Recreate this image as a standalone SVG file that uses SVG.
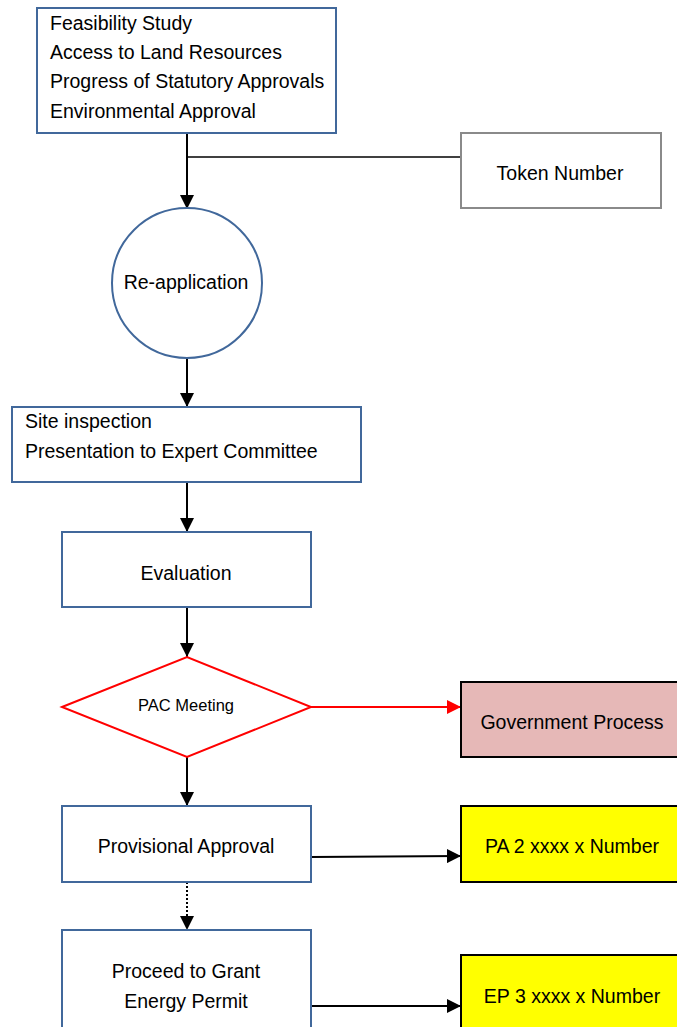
<svg xmlns="http://www.w3.org/2000/svg" width="677" height="1027" viewBox="0 0 677 1027">
<style>
text{font-family:"Liberation Sans",Arial,sans-serif;font-size:19.5px;fill:#000}
.c{text-anchor:middle}
.blue{fill:#fff;stroke:#41689b;stroke-width:2}
.gray{fill:#fff;stroke:#8a8a8a;stroke-width:2}
.yel{fill:#ffff00;stroke:#000;stroke-width:2}
.pink{fill:#e6b8b7;stroke:#000;stroke-width:2}
.ln{fill:none;stroke:#000;stroke-width:2}
</style>
<defs>
<marker id="ah" viewBox="0 0 10 10" refX="10" refY="5" markerWidth="7" markerHeight="7" orient="auto" markerUnits="strokeWidth"><path d="M0,0L10,5L0,10z" fill="#000"/></marker>
<marker id="ahr" viewBox="0 0 10 10" refX="10" refY="5" markerWidth="7" markerHeight="7" orient="auto" markerUnits="strokeWidth"><path d="M0,0L10,5L0,10z" fill="#ff0000"/></marker>
</defs>
<g id="connectors">
<line class="ln" x1="187" y1="133" x2="187" y2="209" marker-end="url(#ah)"/>
<line x1="187" y1="157" x2="461" y2="157" stroke="#000" stroke-width="1.5"/>
<line class="ln" x1="187" y1="358" x2="187" y2="407" marker-end="url(#ah)"/>
<line class="ln" x1="187" y1="482" x2="187" y2="532" marker-end="url(#ah)"/>
<line class="ln" x1="187" y1="607" x2="187" y2="657" marker-end="url(#ah)"/>
<line x1="311" y1="707" x2="461" y2="707" stroke="#ff0000" stroke-width="2" marker-end="url(#ahr)"/>
<line class="ln" x1="187" y1="757" x2="187" y2="806" marker-end="url(#ah)"/>
<line class="ln" x1="311" y1="857" x2="461" y2="856" marker-end="url(#ah)"/>
<line class="ln" x1="187" y1="882" x2="187" y2="930" stroke-dasharray="2,2" marker-end="url(#ah)"/>
<line class="ln" x1="311" y1="1006" x2="461" y2="1006" marker-end="url(#ah)"/>
</g>
<g id="n-start">
<rect class="blue" x="37" y="8" width="299" height="125"/>
<text x="50" y="30">Feasibility Study</text>
<text x="50" y="59">Access to Land Resources</text>
<text x="50" y="88">Progress of Statutory Approvals</text>
<text x="50" y="118">Environmental Approval</text>
</g>
<g id="n-token">
<rect class="gray" x="461" y="133" width="200" height="75"/>
<text class="c" x="560" y="180">Token Number</text>
</g>
<g id="n-reapp">
<circle class="blue" cx="187" cy="283" r="75"/>
<text class="c" x="186" y="289">Re-application</text>
</g>
<g id="n-site">
<rect class="blue" x="12" y="407" width="349" height="75"/>
<text x="25" y="428">Site inspection</text>
<text x="25" y="458">Presentation to Expert Committee</text>
</g>
<g id="n-eval">
<rect class="blue" x="62" y="532" width="249" height="75"/>
<text class="c" x="186" y="580">Evaluation</text>
</g>
<g id="n-pac">
<polygon points="62,707 187,657 311,707 187,757" fill="#fff" stroke="#ff0000" stroke-width="2"/>
<text class="c" x="186" y="711" style="font-size:16.5px">PAC Meeting</text>
</g>
<g id="n-gov">
<rect class="pink" x="461" y="682" width="220" height="75"/>
<text class="c" x="572" y="729">Government Process</text>
</g>
<g id="n-pa">
<rect class="blue" x="62" y="806" width="249" height="76"/>
<text class="c" x="186" y="853">Provisional Approval</text>
</g>
<g id="n-pa2">
<rect class="yel" x="461" y="806" width="220" height="76"/>
<text class="c" x="572" y="853">PA 2 xxxx x Number</text>
</g>
<g id="n-ep">
<rect class="blue" x="62" y="930" width="249" height="110"/>
<text class="c" x="186" y="978">Proceed to Grant</text>
<text class="c" x="186" y="1008">Energy Permit</text>
</g>
<g id="n-ep3">
<rect class="yel" x="461" y="955" width="220" height="85"/>
<text class="c" x="572" y="1003">EP 3 xxxx x Number</text>
</g>
</svg>
